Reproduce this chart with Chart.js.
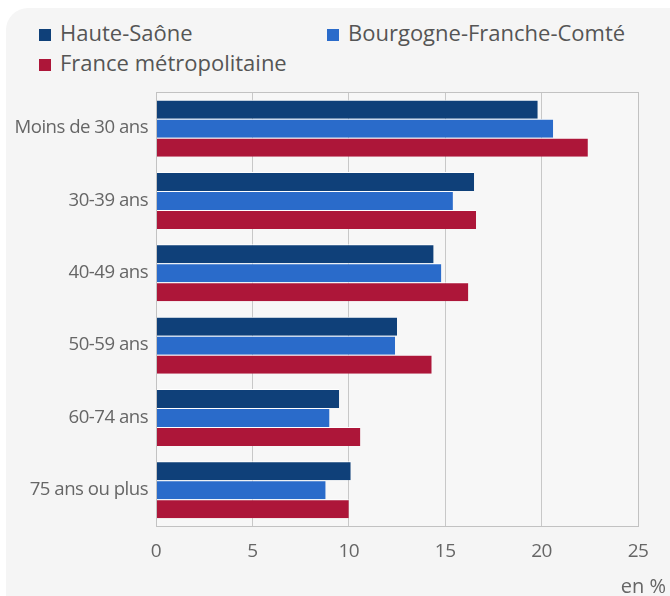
<!DOCTYPE html>
<html>
<head>
<meta charset="utf-8">
<script src="https://cdn.jsdelivr.net/npm/chart.js@4.4.1/dist/chart.umd.min.js"></script>
<style>
    html, body { margin: 0; padding: 0; background: #fff; }
    body { width: 670px; height: 596px; position: relative; overflow: hidden; font-family: 'Open Sans', sans-serif; }
    #panel { position: absolute; left: 6px; top: 8px; width: 684px; height: 640px; background: #f5f5f5; border-radius: 22px; }
    #legend { position: absolute; left: 39px; top: 17px; width: 620px; }
    .item { float: left; width: 288px; height: 30px; line-height: 30px; font-size: 22px; color: #555; white-space: nowrap; }
    .item span.box { display: inline-block; width: 12px; height: 12px; margin-right: 9px; vertical-align: 0px; }
    #wrap { position: absolute; left: 0; top: 0; width: 670px; height: 596px; }
</style>
</head>
<body>
<div id="panel"></div>
<div id="legend"></div>
<div id="wrap"><canvas id="myChart"></canvas></div>
<script>
var categories = ['Moins de 30 ans', '30-39 ans', '40-49 ans', '50-59 ans', '60-74 ans', '75 ans ou plus'];
var seriesNames = ['Haute-Saône', 'Bourgogne-Franche-Comté', 'France métropolitaine'];
var seriesColors = ['#0f4079', '#2a6bca', '#ad1639'];

var hauteSaone = [19.8, 16.5, 14.4, 12.5, 9.5, 10.1];
var bourgogneFC = [20.6, 15.4, 14.8, 12.4, 9.0, 8.8];
var franceMetro = [22.4, 16.6, 16.2, 14.3, 10.6, 10.0];

var xTicks = [0, 5, 10, 15, 20, 25];
var unitLabel = 'en %';

// legend html
var legend = document.getElementById('legend');
for (var i = 0; i < seriesNames.length; i++) {
    var it = document.createElement('div');
    it.className = 'item';
    it.innerHTML = '<span class="box" style="background:' + seriesColors[i] + '"></span>' + seriesNames[i];
    legend.appendChild(it);
}

var values = [hauteSaone, bourgogneFC, franceMetro];
var datasets = [];
for (var s = 0; s < values.length; s++) {
    datasets.push({
        label: seriesNames[s],
        data: values[s],
        backgroundColor: seriesColors[s],
        borderColor: '#ffffff',
        borderWidth: { top: 1, bottom: 0, left: 0, right: 0 },
        borderSkipped: false,
        categoryPercentage: 0.788,
        barPercentage: 1
    });
}

var frame = {
    id: 'frame',
    beforeDraw: function(chart) {
        var a = chart.chartArea, c = chart.ctx;
        c.save();
        c.fillStyle = '#f7f7f7';
        c.fillRect(a.left, a.top, a.right - a.left, a.bottom - a.top);
        c.restore();
        c.letterSpacing = '-0.5px';
    },
    afterDraw: function(chart) {
        var a = chart.chartArea, c = chart.ctx;
        c.save();
        c.letterSpacing = '0px';
        c.strokeStyle = '#c2c2c2';
        c.lineWidth = 1;
        c.strokeRect(a.left + 0.5, a.top + 0.5, a.right - a.left, a.bottom - a.top);
        c.fillStyle = '#666';
        c.font = '20px "Open Sans"';
        c.textAlign = 'right';
        c.textBaseline = 'alphabetic';
        c.fillText(unitLabel, chart.width - 4, chart.height - 3);
        c.restore();
    }
};

var ctx = document.getElementById('myChart').getContext('2d');
var chart = new Chart(ctx, {
    type: 'bar',
    data: { labels: categories, datasets: datasets },
    options: {
        indexAxis: 'y',
        responsive: true,
        maintainAspectRatio: false,
        animation: false,
        layout: { padding: { left: 0, top: 92, right: 32, bottom: 0 } },
        plugins: { legend: { display: false }, tooltip: { enabled: false } },
        scales: {
            x: {
                min: 0,
                max: 25,
                afterBuildTicks: function(scale) {
                    scale.ticks = xTicks.map(function(v) { return { value: v }; });
                },
                afterFit: function(scale) { scale.height = 70; },
                grid: { color: '#c8c8c8', lineWidth: 1, drawTicks: false },
                border: { display: false },
                ticks: { color: '#666', font: { family: 'Open Sans', size: 19 }, padding: 14, maxRotation: 0 }
            },
            y: {
                afterFit: function(scale) { scale.width = 156; },
                grid: { display: false, drawTicks: false },
                border: { display: true, color: '#bdbdbd', width: 1 },
                ticks: { color: '#666', font: { family: 'Open Sans', size: 18.6 }, padding: 8 }
            }
        }
    },
    plugins: [frame]
});
</script>
</body>
</html>
